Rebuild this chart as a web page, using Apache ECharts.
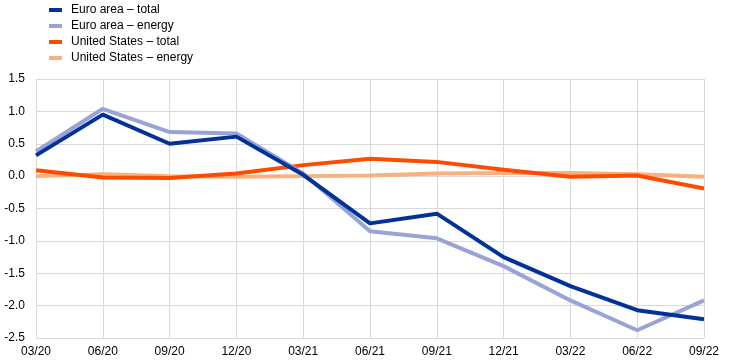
<!DOCTYPE html>
<html>
<head>
<meta charset="utf-8">
<script src="https://cdn.jsdelivr.net/npm/echarts@6/dist/echarts.min.js"></script>
<style>html,body{margin:0;padding:0;background:#fff;}#c{width:742px;height:364px;}</style>
</head>
<body>
<div id="c"></div>
<script>
const categories = ['03/20','06/20','09/20','12/20','03/21','06/21','09/21','12/21','03/22','06/22','09/22'];
const euroTotal  = [0.32, 0.95, 0.50, 0.61, 0.02, -0.73, -0.58, -1.25, -1.70, -2.07, -2.21];
const euroEnergy = [0.38, 1.04, 0.68, 0.66, 0.04, -0.85, -0.96, -1.39, -1.92, -2.38, -1.92];
const usTotal    = [0.09, -0.02, -0.03, 0.04, 0.17, 0.27, 0.22, 0.10, -0.01, 0.01, -0.19];
const usEnergy   = [0.00, 0.03, 0.00, -0.01, 0.00, 0.01, 0.04, 0.05, 0.05, 0.03, -0.01];
const seriesNames = ['Euro area – total','Euro area – energy','United States – total','United States – energy'];
const seriesColors = ['#003299','#9aa3d6','#ff4b00','#f9b07c'];
const seriesData = [euroTotal, euroEnergy, usTotal, usEnergy];

const chart = echarts.init(document.getElementById('c'), null, {renderer:'canvas'});
const font = 'Arial, "Liberation Sans", sans-serif';
chart.setOption({
  animation:false,
  textStyle:{fontFamily:font},
  legend:{
    orient:'vertical', left:49, top:3, padding:0, itemGap:2,
    itemWidth:13, itemHeight:4, icon:'rect',
    textStyle:{fontSize:12, color:'#000', fontFamily:font, lineHeight:14, padding:[0,0,0,4]},
    data:seriesNames
  },
  grid:{left:36, right:38, top:79, bottom:26},
  xAxis:{
    type:'category', data:categories, boundaryGap:false,
    axisLine:{show:true, lineStyle:{color:'#d9d9d9'}},
    axisTick:{show:false},
    splitLine:{show:true, lineStyle:{color:'#d9d9d9', width:1}},
    axisLabel:{color:'#000', fontSize:12, margin:8, fontFamily:font}
  },
  yAxis:{
    type:'value', min:-2.5, max:1.5, interval:0.5,
    axisLine:{show:false}, axisTick:{show:false},
    splitLine:{lineStyle:{color:'#d9d9d9', width:1}},
    axisLabel:{color:'#000', fontSize:12, margin:11, fontFamily:font, formatter:v=>v.toFixed(1)}
  },
  series: seriesNames.map((n,i)=>({
    name:n, type:'line', data:seriesData[i], showSymbol:false, symbol:'none',
    lineStyle:{color:seriesColors[i], width:4}, itemStyle:{color:seriesColors[i]},
    z: 10 - i
  }))
});
</script>
</body>
</html>
